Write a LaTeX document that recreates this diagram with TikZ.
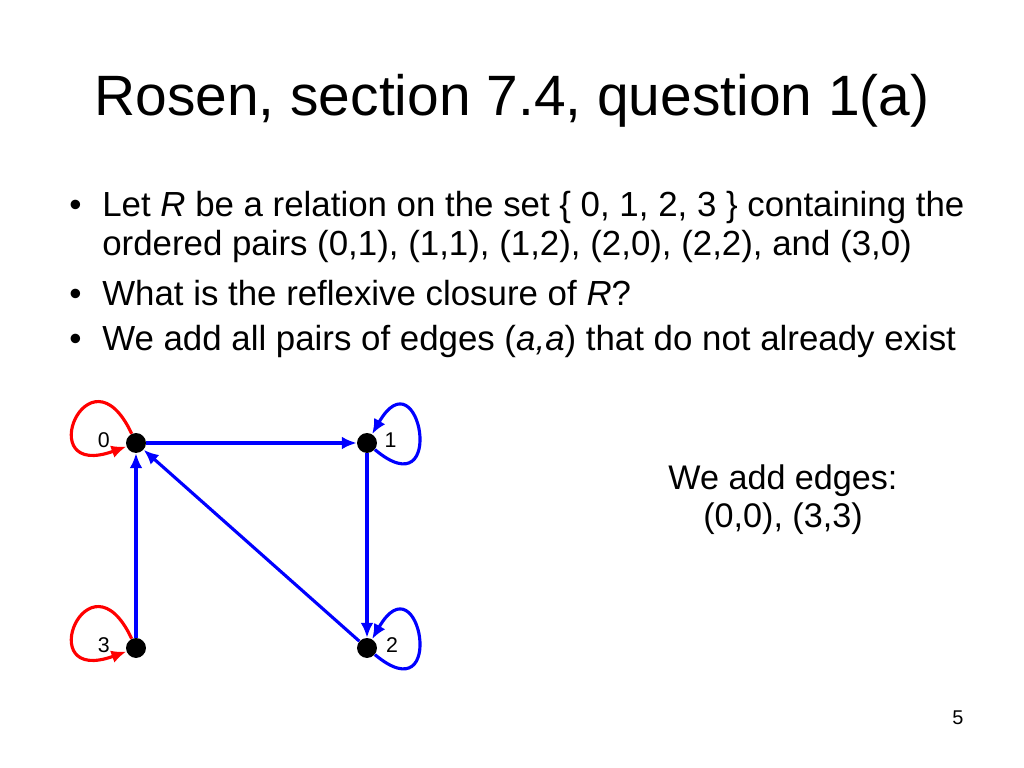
\documentclass[tikz,border=0pt]{standalone}
\usepackage{fontspec}
\setmainfont{Liberation Sans}
\usetikzlibrary{positioning,arrows.meta}

\begin{document}
\begin{tikzpicture}[x=0.703pt,y=0.703pt,
    vertex/.style={circle,fill=black,inner sep=0pt,minimum size=14pt},
    vlabel/.style={font=\fontsize{15}{15}\selectfont,inner sep=1pt,yshift=2pt},
    rel/.style={blue,line width=2.2pt,-{Latex[length=10.5pt,width=9pt]}},
    added/.style={rel,red},
    bullettext/.style={anchor=base west,inner sep=0pt,font=\fontsize{24.5}{24.5}\selectfont}]
    \useasboundingbox (0,0) rectangle (1024,768);
    % title
    \node[anchor=base,font=\fontsize{40}{40}\selectfont] (title) at (512,652) {Rosen, section 7.4, question 1(a)};
    % bullets
    \foreach \y/\txt in {551/{Let \textit{R} be a relation on the set \{ 0, 1, 2, 3 \} containing the},
                         462/{What is the reflexive closure of \textit{R}?},
                         417/{We add all pairs of edges (\textit{a,a}) that do not already exist}}
      \node[bullettext] at (102,\y) {\txt};
    \node[bullettext] (pairs) at (102,512) {ordered pairs (0,1), (1,1), (1,2), (2,0), (2,2), and (3,0)};
    \foreach \y in {551,462,417}
      \node[bullettext] at (69,\y) {•};
    % the graph
    \node[vertex,label={[vlabel,label distance=10pt]left:0}] (n0) at (136,325) {};
    \node[vertex,label={[vlabel,label distance=4pt]right:1}] (n1) at (367,325) {};
    \node[vertex,label={[vlabel,label distance=5pt]right:2}] (n2) at (367,120) {};
    \node[vertex,label={[vlabel,label distance=10pt]left:3}] (n3) at (136,120) {};
    \draw[rel] (n0) -- (n1);
    \draw[rel] (n1) -- (n2);
    \draw[rel] (n2) -- (n0);
    \draw[rel] (n3) -- (n0);
    \draw[rel] (n1) to[out=-40,in=60,distance=67pt] (n1);
    \draw[rel] (n2) to[out=-40,in=60,distance=67pt] (n2);
    \draw[added] (n0) to[out=115,in=200,distance=72pt] (n0);
    \draw[added] (n3) to[out=115,in=200,distance=72pt] (n3);
    % answer
    \node[anchor=base,font=\fontsize{24}{24}\selectfont] (answer) at (783,278) {We add edges:};
    \node[anchor=base,font=\fontsize{24}{24}\selectfont] (edges) at (783,240) {(0,0), (3,3)};
    \node[font=\fontsize{14}{14}\selectfont] (page) at (958,50) {5};
\end{tikzpicture}
\end{document}
